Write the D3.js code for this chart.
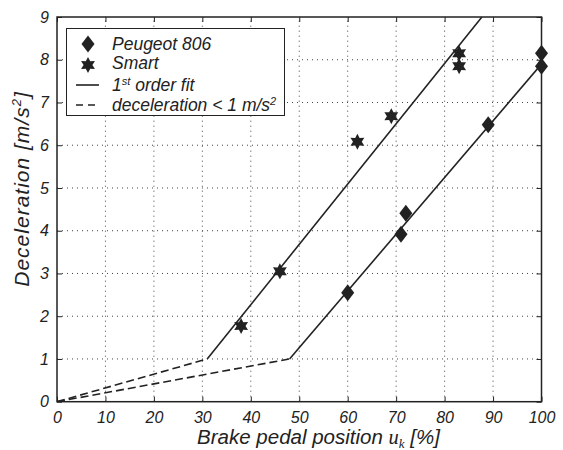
<!DOCTYPE html>
<html>
<head>
<meta charset="utf-8">
<script src="https://cdnjs.cloudflare.com/ajax/libs/d3/7.8.5/d3.min.js"></script>
<style>
  body { margin: 0; background: #fff; }
  text { font-family: "Liberation Sans", Arial, sans-serif; font-style: italic; fill: #222; }
</style>
</head>
<body>
<svg id="chart" width="563" height="450"></svg>
<script>
// data
var peugeotX = [60, 71, 72, 89, 100, 100];
var peugeotY = [2.55, 3.92, 4.41, 6.48, 7.85, 8.15];
var smartX = [38, 46, 62, 69, 83, 83];
var smartY = [1.77, 3.05, 6.08, 6.68, 8.15, 7.85];

// first order fits: dashed part below 1 m/s2, solid above
var peugeotLowX = [0, 48], peugeotLowY = [0, 1];
var peugeotFitX = [48, 100], peugeotFitY = [1, 7.9];
var smartLowX = [0, 31], smartLowY = [0, 1];
var smartFitX = [31, 87.7], smartFitY = [1, 9];

var xTicks = [0, 10, 20, 30, 40, 50, 60, 70, 80, 90, 100];
var yTicks = [0, 1, 2, 3, 4, 5, 6, 7, 8, 9];

var svg = d3.select('#chart');
var plotLeft = 57, plotRight = 541.5, plotTop = 17, plotBottom = 401.7;

var x = d3.scaleLinear().domain([0, 100]).range([plotLeft, plotRight]);
var y = d3.scaleLinear().domain([0, 9]).range([plotBottom, plotTop]);

var ink = '#222';

// grid
var grid = svg.append('g');
grid.selectAll('.gx').data(xTicks.slice(1, -1)).enter().append('line')
  .attr('x1', function(d){ return x(d); }).attr('x2', function(d){ return x(d); })
  .attr('y1', plotBottom).attr('y2', plotTop)
  .attr('stroke', '#444').attr('stroke-width', 1).attr('stroke-dasharray', '1,4');
grid.selectAll('.gy').data(yTicks.slice(1, -1)).enter().append('line')
  .attr('y1', function(d){ return y(d); }).attr('y2', function(d){ return y(d); })
  .attr('x1', plotLeft).attr('x2', plotRight)
  .attr('stroke', '#444').attr('stroke-width', 1).attr('stroke-dasharray', '1,4');

// axes (ticks inward, on all four sides)
function styleAxis(g) {
  g.select('.domain').remove();
  g.selectAll('.tick line').attr('stroke', ink).attr('stroke-width', 1);
  g.selectAll('.tick text').attr('font-size', 16).attr('fill', ink)
    .style('font-family', '"Liberation Sans", Arial, sans-serif').style('font-style', 'italic');
}
var xAxis = svg.append('g').attr('transform', 'translate(0,' + plotBottom + ')')
  .call(d3.axisBottom(x).tickValues(xTicks).tickSize(-5).tickPadding(10));
styleAxis(xAxis);
var xTop = svg.append('g').attr('transform', 'translate(0,' + plotTop + ')')
  .call(d3.axisTop(x).tickValues(xTicks).tickSize(-5).tickFormat(''));
styleAxis(xTop);
var yAxis = svg.append('g').attr('transform', 'translate(' + plotLeft + ',0)')
  .call(d3.axisLeft(y).tickValues(yTicks).tickSize(-5).tickPadding(8));
styleAxis(yAxis);
var yRight = svg.append('g').attr('transform', 'translate(' + plotRight + ',0)')
  .call(d3.axisRight(y).tickValues(yTicks).tickSize(-5).tickFormat(''));
styleAxis(yRight);

svg.append('rect').attr('x', plotLeft).attr('y', plotTop)
  .attr('width', plotRight - plotLeft).attr('height', plotBottom - plotTop)
  .attr('fill', 'none').attr('stroke', ink).attr('stroke-width', 1.5);

// fit lines
var line = d3.line().x(function(d){ return x(d[0]); }).y(function(d){ return y(d[1]); });
svg.append('clipPath').attr('id', 'clip').append('rect')
  .attr('x', plotLeft).attr('y', plotTop).attr('width', plotRight - plotLeft).attr('height', plotBottom - plotTop);
var plot = svg.append('g').attr('clip-path', 'url(#clip)');
function drawLine(xs, ys, dashed) {
  plot.append('path').datum(d3.zip(xs, ys)).attr('d', line)
    .attr('fill', 'none').attr('stroke', ink).attr('stroke-width', 1.6)
    .attr('stroke-dasharray', dashed ? '8,4' : null);
}
drawLine(smartLowX, smartLowY, true);
drawLine(peugeotLowX, peugeotLowY, true);
drawLine(smartFitX, smartFitY, false);
drawLine(peugeotFitX, peugeotFitY, false);

// markers
function diamondPath(cx, cy) {
  var w = 6.5, h = 8.5;
  return 'M' + cx + ',' + (cy - h) + 'L' + (cx + w) + ',' + cy + 'L' + cx + ',' + (cy + h) +
    'L' + (cx - w) + ',' + cy + 'Z';
}
function starPath(cx, cy) {
  var r = 8, ri = 4.4, p = [];
  for (var i = 0; i < 12; i++) {
    var a = Math.PI / 6 * i - Math.PI / 2;
    var rr = i % 2 ? ri : r;
    p.push([cx + rr * Math.cos(a), cy + rr * Math.sin(a)]);
  }
  return 'M' + p.join('L') + 'Z';
}
svg.append('g').selectAll('path').data(d3.zip(peugeotX, peugeotY)).enter().append('path')
  .attr('d', function(d){ return diamondPath(x(d[0]), y(d[1])); })
  .attr('fill', ink);
svg.append('g').selectAll('path').data(d3.zip(smartX, smartY)).enter().append('path')
  .attr('d', function(d){ return starPath(x(d[0]), y(d[1])); })
  .attr('fill', ink);

// axis labels
var xl = svg.append('text').attr('x', 318.5).attr('y', 444)
  .attr('text-anchor', 'middle').attr('font-size', 20.5);
xl.append('tspan').text('Brake pedal position ');
xl.append('tspan').style('font-family', '"Liberation Serif", "Times New Roman", serif').text('u');
xl.append('tspan').attr('font-size', 13).attr('dy', 4)
  .style('font-family', '"Liberation Serif", "Times New Roman", serif').text('k');
xl.append('tspan').attr('dy', -4).text(' [%]');

var yl = svg.append('text').attr('transform', 'translate(29,189) rotate(-90)')
  .attr('text-anchor', 'middle').attr('font-size', 21).attr('letter-spacing', 1);
yl.append('tspan').text('Deceleration [m/s');
yl.append('tspan').attr('font-size', 13).attr('dy', -8).text('2');
yl.append('tspan').attr('dy', 8).text(']');

// legend
var lg = svg.append('g');
lg.append('rect').attr('x', 66.5).attr('y', 28.5).attr('width', 218).attr('height', 87)
  .attr('fill', '#fff').attr('stroke', ink).attr('stroke-width', 1);
var rows = [44, 63, 85, 105];
lg.append('path').attr('d', diamondPath(88, rows[0])).attr('fill', ink);
lg.append('path').attr('d', starPath(88, rows[1] + 2)).attr('fill', ink);
lg.append('line').attr('x1', 76).attr('x2', 99).attr('y1', rows[2]).attr('y2', rows[2])
  .attr('stroke', ink).attr('stroke-width', 1.6);
lg.append('line').attr('x1', 76).attr('x2', 99).attr('y1', rows[3]).attr('y2', rows[3])
  .attr('stroke', ink).attr('stroke-width', 1.6).attr('stroke-dasharray', '7,5');
function legendText(yy) {
  return lg.append('text').attr('x', 112).attr('y', yy + 6).attr('font-size', 17.5);
}
legendText(rows[0]).text('Peugeot 806');
legendText(rows[1]).text('Smart');
var t3 = legendText(rows[2]);
t3.append('tspan').text('1');
t3.append('tspan').attr('font-size', 11).attr('dy', -6).text('st');
t3.append('tspan').attr('dy', 6).text(' order fit');
var t4 = legendText(rows[3]);
t4.append('tspan').text('deceleration < 1 m/s');
t4.append('tspan').attr('font-size', 11).attr('dy', -6).text('2');
</script>
</body>
</html>
